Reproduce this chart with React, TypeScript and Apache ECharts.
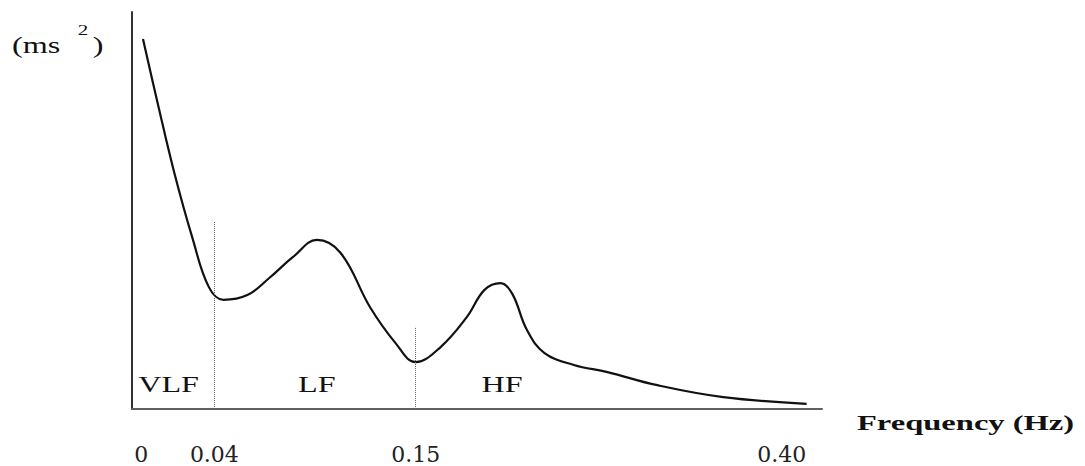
import React, { useEffect, useRef } from "react";
import * as echarts from "echarts";

// ---- data (schematic HRV power spectrum) ----
const FREQ_HZ = [
  0.001, 0.009, 0.018, 0.028, 0.037, 0.045, 0.058, 0.07, 0.083, 0.096, 0.109,
  0.125, 0.139, 0.15, 0.167, 0.185, 0.197, 0.208, 0.216, 0.226, 0.238, 0.258,
  0.281, 0.315, 0.36, 0.417,
];
const POWER = [
  93.2, 77.1, 59.7, 43.1, 30.7, 27.5, 28.7, 33.0, 38.3, 42.6, 39.3, 25.7, 16.6,
  11.8, 15.6, 23.2, 30.0, 31.7, 29.0, 19.9, 14.1, 11.1, 9.3, 6.0, 3.0, 1.3,
];
const TICK_HZ = [0, 0.04, 0.15, 0.4];
const TICK_LABELS = ["0", "0.04", "0.15", "0.40"];
const BAND_NAMES = ["VLF", "LF", "HF"];
const BAND_LABEL_HZ = [0.015, 0.096, 0.209];
const BAND_EDGE_HZ = [0.04, 0.15];
const BAND_EDGE_TOP = [47.2, 20.7];
const Y_NAME = ["(ms", "2", ")"];
const X_NAME = "Frequency (Hz)";

// ---- schematic (non-linear) frequency axis: compressed above 0.15 Hz ----
const COMPRESS_FROM = 0.15;
const COMPRESS = 0.8;
const warp = (f: number) =>
  f <= COMPRESS_FROM ? f : COMPRESS_FROM + (f - COMPRESS_FROM) * COMPRESS;

const X_MIN = -0.005;
const X_MAX = 0.372;
const Y_MAX = 100;

const GRID = { left: 132, right: 263, top: 12, bottom: 57 };
const SERIF = '"Liberation Serif", "Times New Roman", serif';
const STRETCH = 1.4;

export default function App() {
  const ref = useRef<HTMLDivElement>(null);

  useEffect(() => {
    if (!ref.current) return;
    const chart = echarts.init(ref.current, null, { renderer: "svg" });

    const tickValues = TICK_HZ.map(warp);
    const option: any = {
      animation: false,
      backgroundColor: "#ffffff",
      grid: { ...GRID },
      xAxis: {
        type: "value",
        min: X_MIN,
        max: X_MAX,
        axisLine: { show: true, onZero: false, lineStyle: { color: "#606060", width: 2 } },
        axisTick: { show: false },
        splitLine: { show: false },
        axisLabel: {
          show: true,
          customValues: tickValues,
          margin: 34,
          fontFamily: '"DejaVu Serif", serif',
          fontSize: 22,
          color: "#222",
          formatter: (v: number) => {
            const i = tickValues.findIndex((t) => Math.abs(t - v) < 1e-6);
            return i >= 0 ? TICK_LABELS[i] : "";
          },
        },
      },
      yAxis: {
        type: "value",
        min: 0,
        max: Y_MAX,
        axisLine: { show: true, onZero: false, lineStyle: { color: "#333", width: 2 } },
        axisTick: { show: false },
        axisLabel: { show: false },
        splitLine: { show: false },
      },
      series: [
        {
          type: "line",
          data: FREQ_HZ.map((f, i) => [warp(f), POWER[i]]),
          smooth: 0.4,
          symbol: "none",
          lineStyle: { color: "#111", width: 2.2 },
          markLine: {
            silent: true,
            symbol: "none",
            label: { show: false },
            lineStyle: { type: "dotted", color: "#666", width: 1 },
            data: BAND_EDGE_HZ.map((f, i) => [
              { coord: [warp(f), 0] },
              { coord: [warp(f), BAND_EDGE_TOP[i]] },
            ]),
          },
        },
      ],
    };
    chart.setOption(option);

    const toPx = (u: number, p: number) =>
      chart.convertToPixel({ gridIndex: 0 }, [u, p]) as number[];

    const txt = (
      text: string,
      x: number,
      y: number,
      size: number,
      align: string,
      weight = "normal",
      stretch = STRETCH
    ) => ({
      type: "text",
      x,
      y,
      scaleX: stretch,
      silent: true,
      style: {
        text,
        fontFamily: SERIF,
        fontSize: size,
        fontWeight: weight,
        fill: "#111",
        align,
        textAlign: align,
        verticalAlign: "middle",
        textVerticalAlign: "middle",
      },
    });

    const graphics: any[] = [];
    BAND_NAMES.forEach((name, i) => {
      const [x, y] = toPx(warp(BAND_LABEL_HZ[i]), 6.2);
      graphics.push(txt(name, x, y, 23, "center"));
    });
    const [ex, ey] = toPx(X_MAX, 0);
    graphics.push(txt(X_NAME, ex + 35, ey + 14, 21, "left", "bold", 1.55));
    const [ox, oy] = toPx(X_MIN, Y_MAX);
    graphics.push(txt(Y_NAME[0], ox - 120, oy + 33.5, 23, "left"));
    graphics.push(txt(Y_NAME[1], ox - 49, oy + 18, 15, "center"));
    graphics.push(txt(Y_NAME[2], ox - 34, oy + 33.5, 23, "center"));

    chart.setOption({ graphic: graphics });

    return () => chart.dispose();
  }, []);

  return (
    <div
      ref={ref}
      style={{ position: "absolute", left: 0, top: 0, width: 1085, height: 466 }}
    />
  );
}
